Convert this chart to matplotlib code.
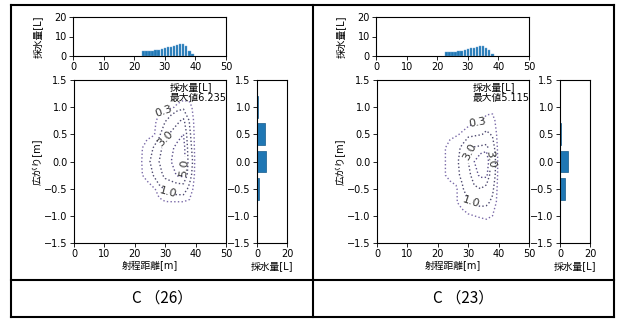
import numpy as np
import matplotlib
matplotlib.use("Agg")
import matplotlib.pyplot as plt
from matplotlib.lines import Line2D

plt.rcParams["font.family"] = ["DejaVu Sans", "Noto Sans CJK JP"]
plt.rcParams["font.size"] = 7
plt.rcParams["axes.linewidth"] = 0.8

W, H = 621, 321

# --- Daten: C(26) ---
top_x_26 = [23, 24, 25, 26, 27, 28, 29, 30, 31, 32, 33, 34, 35, 36, 37, 38, 39]
top_v_26 = [2.4, 2.5, 2.6, 2.7, 2.9, 3.2, 3.5, 3.9, 4.4, 4.8, 5.2, 5.8, 6.1, 6.2, 5.2, 2.6, 0.9]
side_y_26 = [1.0, 0.5, 0.0, -0.5]
side_v_26 = [0.4, 5.0, 6.2, 1.1]
max_26 = 6.235

# --- Daten: C(23) ---
top_x_23 = [23, 24, 25, 26, 27, 28, 29, 30, 31, 32, 33, 34, 35, 36, 37, 38]
top_v_23 = [1.8, 2.1, 2.1, 2.2, 2.5, 2.7, 3.0, 3.4, 3.9, 4.2, 4.8, 5.0, 4.9, 4.2, 3.0, 1.2]
side_y_23 = [1.0, 0.5, 0.0, -0.5]
side_v_23 = [0.0, 0.8, 5.1, 3.0]
max_23 = 5.115

# Gitter für die Konturen (Messpunkte)
grid_x = [20, 22, 24, 26, 28, 30, 32, 34, 36, 38, 40, 42]
grid_y = [1.25, 1.0, 0.75, 0.5, 0.25, 0.0, -0.25, -0.5, -0.75, -1.0, -1.25]

field_26 = [
    [0, 0, 0, 0, 0, 0, 0, 0, 0, 0, 0, 0],
    [0, 0, 0, 0, 0, 0.1, 0.2, 0.4, 0.6, 0.5, 0, 0],
    [0, 0, 0, 0.1, 0.5, 0.9, 1.6, 2.6, 3.4, 0.9, 0, 0],
    [0, 0.1, 0.2, 0.2, 0.6, 2.6, 3.4, 4.2, 5.0, 1.2, 0, 0],
    [0, 0.25, 0.45, 1.0, 2.2, 4.0, 4.6, 5.6, 6.0, 1.5, 0, 0],
    [0, 0.25, 0.6, 1.4, 3.0, 4.4, 5.0, 6.235, 6.0, 2.0, 0, 0],
    [0, 0.25, 0.45, 1.0, 2.2, 3.6, 4.2, 5.2, 5.5, 1.5, 0, 0],
    [0, 0, 0.1, 0.2, 0.5, 1.2, 1.5, 1.6, 1.6, 0.7, 0, 0],
    [0, 0, 0, 0, 0.2, 0.25, 0.25, 0.25, 0.25, 0.2, 0, 0],
    [0, 0, 0, 0, 0, 0, 0, 0, 0, 0, 0, 0],
    [0, 0, 0, 0, 0, 0, 0, 0, 0, 0, 0, 0],
]
field_23 = [
    [0, 0, 0, 0, 0, 0, 0, 0, 0, 0, 0, 0],
    [0, 0, 0, 0, 0, 0, 0, 0, 0.1, 0.1, 0, 0],
    [0, 0, 0, 0, 0.1, 0.15, 0.2, 0.25, 0.45, 0.5, 0, 0],
    [0, 0.1, 0.2, 0.25, 0.35, 0.5, 0.7, 0.9, 1.2, 0.9, 0, 0],
    [0, 0.25, 0.45, 0.6, 1.2, 2.9, 3.2, 3.4, 3.6, 1.5, 0, 0],
    [0, 0.25, 0.45, 0.7, 1.5, 3.0, 4.0, 4.8, 5.115, 2.0, 0, 0],
    [0, 0.25, 0.45, 0.6, 1.3, 2.6, 3.6, 4.2, 4.3, 1.8, 0, 0],
    [0, 0, 0.1, 0.2, 0.8, 1.8, 2.8, 3.0, 2.5, 1.2, 0, 0],
    [0, 0, 0, 0.25, 0.5, 0.9, 1.1, 1.3, 1.2, 0.8, 0, 0],
    [0, 0, 0, 0, 0.1, 0.2, 0.3, 0.35, 0.4, 0.3, 0, 0],
    [0, 0, 0, 0, 0, 0, 0, 0, 0, 0, 0, 0],
]
levels_26 = [0.3, 1.0, 3.0, 5.0]
levels_23 = [0.3, 1.0, 3.0, 4.0]
label_pos_26 = [(29.5, 0.92), (30.0, 0.43), (36.3, -0.12), (31.0, -0.55)]
label_pos_23 = [(33.0, 0.66), (29.3, 0.21), (37.0, 0.03), (31.0, -0.75)]

BLUE = "#1f77b4"
CCOLS = ["#7a6aa8", "#4e4a70", "#4e4a70", "#5a4f8a"]


def ax_px(fig, x0, y0, x1, y1):
    """Achsen in Pixelkoordinaten (oben links = 0,0)."""
    return fig.add_axes([x0 / W, 1 - y1 / H, (x1 - x0) / W, (y1 - y0) / H])


def draw_panel(fig, ox, top_x, top_v, side_y, side_v, field, levels, lpos, vmax):
    # oberes Histogramm (Schussweite)
    at = ax_px(fig, ox + 73, 17, ox + 226, 56)
    at.bar(top_x, top_v, width=0.8, color=BLUE, edgecolor="#6fa8d6", linewidth=0.3)
    at.set_xlim(0, 50); at.set_ylim(0, 20)
    at.set_xticks(range(0, 51, 10)); at.set_yticks([0, 10, 20])
    at.set_ylabel("採水量[L]", labelpad=8)

    # Konturplot
    am = ax_px(fig, ox + 74, 80, ox + 226, 243)
    X, Y = np.meshgrid(grid_x, grid_y)
    cs = am.contour(X, Y, np.array(field), levels=levels, colors=CCOLS,
                    linestyles="dotted", linewidths=1.0)
    am.clabel(cs, fmt="%.1f", fontsize=8, inline=True, manual=lpos, colors="#333333")
    am.set_xlim(0, 50); am.set_ylim(-1.5, 1.5)
    am.set_xticks(range(0, 51, 10)); am.set_yticks(np.arange(-1.5, 1.51, 0.5))
    am.set_xlabel("射程距離[m]", labelpad=1)
    am.set_ylabel("広がり[m]", labelpad=1)
    am.text(0.63, 0.985, f"採水量[L]\n最大値{vmax}", transform=am.transAxes,
            va="top", ha="left", fontsize=7, linespacing=1.1)

    # seitliches Histogramm (Breite)
    ar = ax_px(fig, ox + 257, 80, ox + 287, 243)
    ar.barh(side_y, side_v, height=0.4, color=BLUE, edgecolor="#155a8a", linewidth=0.5)
    ar.set_xlim(0, 20); ar.set_ylim(-1.5, 1.5)
    ar.set_xticks([0, 20]); ar.set_yticks(np.arange(-1.5, 1.51, 0.5))
    ar.set_xlabel("採水量[L]", labelpad=1)
    for a in (at, am, ar):
        a.tick_params(length=3, width=0.6, pad=1.5, labelsize=7)


fig = plt.figure(figsize=(W / 100, H / 100), dpi=100)
draw_panel(fig, 0, top_x_26, top_v_26, side_y_26, side_v_26, field_26, levels_26, label_pos_26, max_26)
draw_panel(fig, 303, top_x_23, top_v_23, side_y_23, side_v_23, field_23, levels_23, label_pos_23, max_23)

# Tabellenrahmen
L, M, R, T, D, B = 11, 313, 614, 5, 280, 317
segs = [((L, R), (T, T)), ((L, R), (D, D)), ((L, R), (B, B)),
        ((L, L), (T, B)), ((M, M), (T, B)), ((R, R), (T, B))]
for xs, ys in segs:
    fig.add_artist(Line2D([x / W for x in xs], [1 - y / H for y in ys],
                          transform=fig.transFigure, color="black", linewidth=1.5))

fig.text((L + M) / 2 / W, 1 - (D + B) / 2 / H, "C （26）", ha="center", va="center",
         fontsize=11, family=["Noto Sans CJK JP", "DejaVu Sans"])
fig.text((M + R) / 2 / W, 1 - (D + B) / 2 / H, "C （23）", ha="center", va="center",
         fontsize=11, family=["Noto Sans CJK JP", "DejaVu Sans"])

fig.savefig("out.png", dpi=100)
